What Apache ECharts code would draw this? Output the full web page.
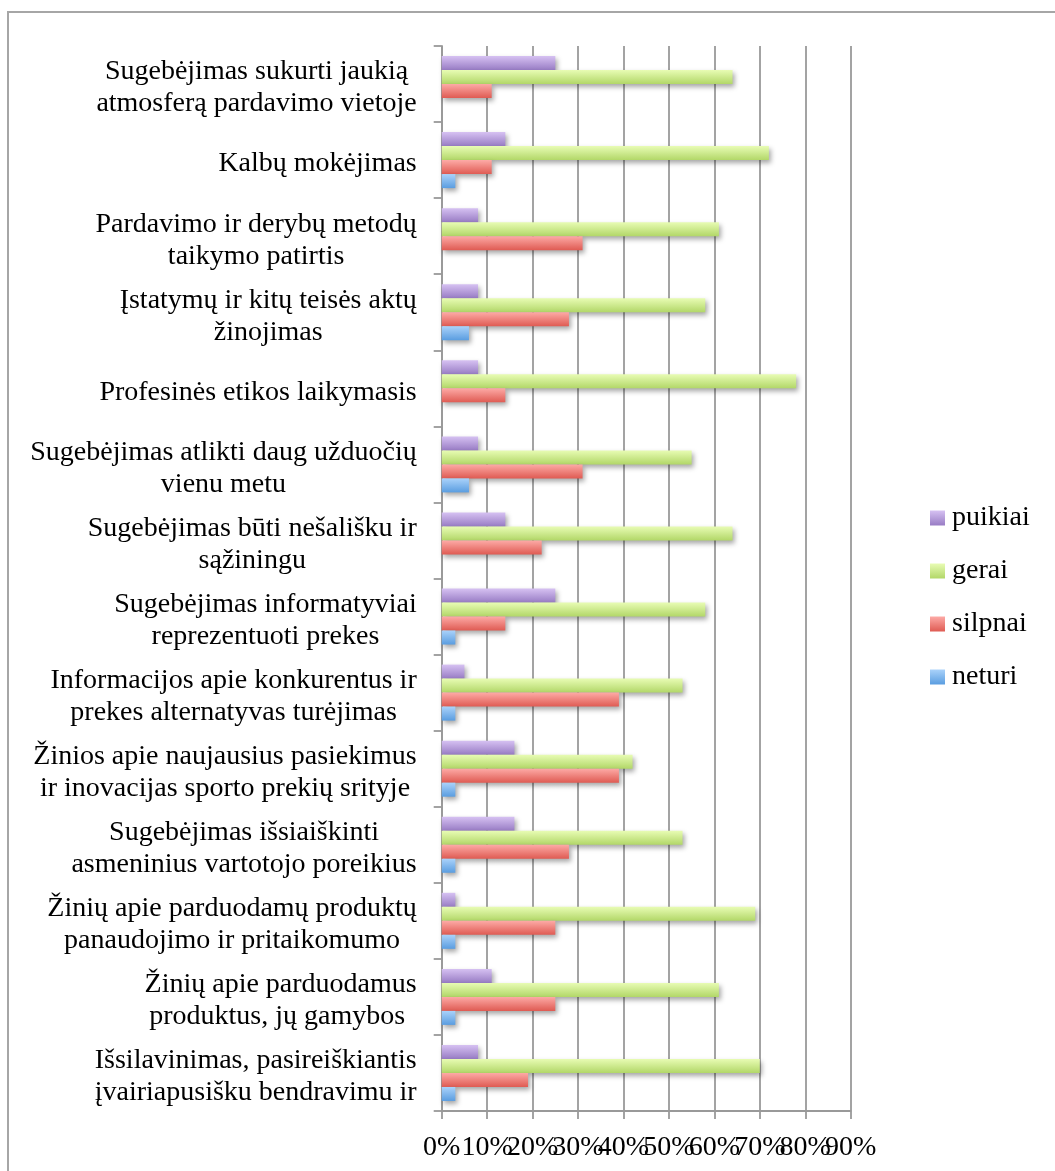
<!DOCTYPE html>
<html>
<head>
<meta charset="utf-8">
<script src="https://cdn.jsdelivr.net/npm/echarts@6/dist/echarts.min.js"></script>
<style>
html,body{margin:0;padding:0;background:#fff;}
#chart{width:1055px;height:1171px;}
</style>
</head>
<body>
<div id="chart"></div>
<script>
// Categories, top to bottom
const categories = [
  "Sugebėjimas sukurti jaukią\natmosferą pardavimo vietoje",
  "Kalbų mokėjimas",
  "Pardavimo ir derybų metodų\ntaikymo patirtis",
  "Įstatymų ir kitų teisės aktų\nžinojimas",
  "Profesinės etikos laikymasis",
  "Sugebėjimas atlikti daug užduočių\nvienu metu",
  "Sugebėjimas būti nešališku ir\nsąžiningu",
  "Sugebėjimas informatyviai\nreprezentuoti prekes",
  "Informacijos apie konkurentus ir\nprekes alternatyvas turėjimas",
  "Žinios apie naujausius pasiekimus\nir inovacijas sporto prekių srityje",
  "Sugebėjimas išsiaiškinti\nasmeninius vartotojo poreikius",
  "Žinių apie parduodamų produktų\npanaudojimo ir pritaikomumo",
  "Žinių apie parduodamus\nproduktus, jų gamybos ",
  "Išsilavinimas, pasireiškiantis\nįvairiapusišku bendravimu ir"
];
const seriesNames = ["puikiai", "gerai", "silpnai", "neturi"];
const puikiai = [25, 14, 8, 8, 8, 8, 14, 25, 5, 16, 16, 3, 11, 8];
const gerai   = [64, 72, 61, 58, 78, 55, 64, 58, 53, 42, 53, 69, 61, 70];
const silpnai = [11, 11, 31, 28, 14, 31, 22, 14, 39, 39, 28, 25, 25, 19];
const neturi  = [0, 3, 0, 6, 0, 6, 0, 3, 3, 3, 3, 3, 3, 3];
const xTicks = [0, 10, 20, 30, 40, 50, 60, 70, 80, 90];
const xMax = xTicks[xTicks.length - 1];

const FONT = "Liberation Serif";
const grads = {
  puikiai: ["#d6c1f2", "#987cc4"],
  gerai:   ["#e8fcb4", "#b2d768"],
  silpnai: ["#fdaaa6", "#df5b53"],
  neturi:  ["#aad2fa", "#5a9de0"]
};
function grad(c) {
  return new echarts.graphic.LinearGradient(0, 0, 0, 1, [
    {offset: 0, color: c[0]}, {offset: 1, color: c[1]}
  ]);
}
const dataMap = {puikiai, gerai, silpnai, neturi};
const lineCol = '#999999';
const labelBase = {fontFamily: FONT, fontSize: 28, color: '#000', margin: 23, hideOverlap: false};

const chart = echarts.init(document.getElementById('chart'), null, {renderer: 'canvas'});
chart.setOption({
  backgroundColor: '#ffffff',
  animation: false,
  graphic: [{
    type: 'rect', silent: true, z: -1,
    shape: {x: 8, y: 12, width: 1200, height: 1300},
    style: {fill: 'none', stroke: '#a6a6a6', lineWidth: 2}
  }],
  grid: {left: 441.7, right: 204.3, top: 46, bottom: 60, containLabel: false},
  legend: {
    orient: 'vertical',
    left: 925, top: 499,
    itemWidth: 15, itemHeight: 15,
    itemGap: 25,
    icon: 'rect',
    data: seriesNames,
    textStyle: {fontFamily: FONT, fontSize: 28, color: '#000', padding: [0, 0, 0, 2]}
  },
  xAxis: [{
    type: 'value', min: 0, max: xMax, interval: 10, position: 'bottom',
    axisLine: {show: true, lineStyle: {color: lineCol, width: 1.8}},
    axisTick: {show: true, length: 8, lineStyle: {color: lineCol, width: 1.8}},
    splitLine: {show: true, lineStyle: {color: lineCol, width: 1.8}},
    axisLabel: Object.assign({}, labelBase, {
      showMinLabel: true,
      formatter: v => (v === xMax ? '' : v + '%')
    })
  }, {
    type: 'value', min: 0, max: xMax, interval: 10, position: 'bottom', offset: 0,
    axisLine: {show: false}, axisTick: {show: false}, splitLine: {show: false},
    axisLabel: Object.assign({}, labelBase, {
      showMaxLabel: true,
      formatter: v => (v === xMax ? v + '%' : '')
    })
  }],
  yAxis: {
    type: 'category', inverse: true, data: categories,
    axisLine: {show: true, lineStyle: {color: lineCol, width: 1.8}},
    axisTick: {show: true, length: 8, lineStyle: {color: lineCol, width: 1.8}},
    axisLabel: {
      interval: 0, margin: 25, align: 'right',
      padding: [8, 0, 0, 0],
      formatter: v => v.split('\n').map(l => '{c|' + l + '}').join('\n'),
      rich: {c: {align: 'center', fontFamily: FONT, fontSize: 28, lineHeight: 32, color: '#000'}}
    }
  },
  series: seriesNames.map(n => ({
    name: n, type: 'bar', data: dataMap[n], xAxisIndex: 0,
    barWidth: 14, barGap: '0%',
    itemStyle: {
      color: grad(grads[n]),
      shadowColor: 'rgba(0,0,0,0.35)', shadowBlur: 5, shadowOffsetX: 2, shadowOffsetY: 3
    }
  }))
});
</script>
</body>
</html>
